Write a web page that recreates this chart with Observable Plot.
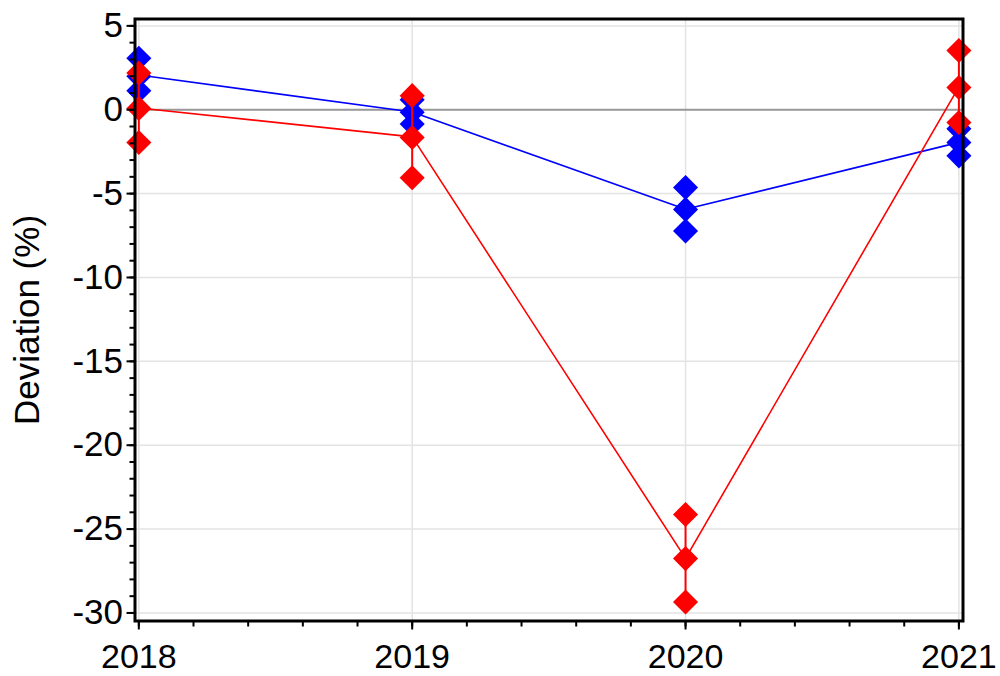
<!DOCTYPE html>
<html><head><meta charset="utf-8">
<script src="https://cdn.jsdelivr.net/npm/d3@7"></script>
<script src="https://cdn.jsdelivr.net/npm/@observablehq/plot@0.6"></script>
<style>body{margin:0;background:#fff} svg{display:block}</style>
</head><body><div id="chart"></div>
<script>
const years = [2018, 2019, 2020, 2021];
const blueValues = [[3.07, 2.0, 1.13], [0.6, -0.15, -0.85], [-4.64, -5.94, -7.23], [-1.14, -1.95, -2.75]];
const redValues = [[2.19, 0.08, -1.95], [0.84, -1.65, -4.05], [-24.13, -26.76, -29.35], [3.53, 1.33, -0.76]];
const yMajorTicks = [5, 0, -5, -10, -15, -20, -25, -30];
const xMajorTicks = [2018, 2019, 2020, 2021];
const yLabel = "Deviation (%)";

const toRows = (vals) => years.flatMap((yr, i) => vals[i].map(v => ({year: yr, value: v})));
const blue = toRows(blueValues);
const red = toRows(redValues);
const yMinor = d3.range(-30, 6, 1);
const xMinor = d3.range(0, 16).map(i => 2018 + i * 0.2);

const seriesMarks = (rows, color) => [
  Plot.lineY(rows, Plot.groupX({y: "mean"}, {x: "year", y: "value", stroke: color, strokeWidth: 1.6})),
  Plot.ruleX(rows, Plot.groupX({y1: "min", y2: "max"}, {x: "year", y: "value", stroke: color, strokeWidth: 2})),
  Plot.dot(rows, {x: "year", y: "value", symbol: "diamond2", r: 11.3, fill: color, stroke: "none"})
];

const chart = Plot.plot({
  width: 1000,
  height: 676,
  marginLeft: 134.5,
  marginRight: 37.5,
  marginTop: 18.5,
  marginBottom: 55.5,
  style: {fontFamily: "'Liberation Sans', Arial, sans-serif", background: "#fff", color: "#000"},
  x: {domain: [2017.986, 2021.015]},
  y: {domain: [-30.48, 5.41]},
  marks: [
    Plot.gridY(yMajorTicks, {stroke: "#e3e3e3", strokeOpacity: 1, strokeWidth: 1.5}),
    Plot.gridX(xMajorTicks, {stroke: "#e3e3e3", strokeOpacity: 1, strokeWidth: 1.5}),
    Plot.ruleY([0], {stroke: "#999", strokeWidth: 2}),
    ...seriesMarks(blue, "#0000ff"),
    ...seriesMarks(red, "#ff0000"),
    Plot.axisY(yMajorTicks, {tickSize: 8, tickPadding: 4, fontSize: 35, strokeWidth: 2, tickFormat: d => String(d), label: null}),
    Plot.axisY(yMinor, {tickSize: 5, strokeWidth: 2, text: null, label: null}),
    Plot.axisX(xMajorTicks, {tickSize: 9, tickPadding: 14, fontSize: 34, strokeWidth: 2, tickFormat: d => String(d), label: null}),
    Plot.axisX(xMinor, {tickSize: 6, strokeWidth: 2, text: null, label: null}),
    Plot.text([yLabel], {frameAnchor: "left", textAnchor: "middle", lineAnchor: "middle", dx: -107, rotate: -90, fontSize: 35, text: d => d, fill: "#000"}),
    Plot.frame({stroke: "#000", strokeWidth: 3})
  ]
});
document.getElementById("chart").appendChild(chart);
</script>
</body></html>
